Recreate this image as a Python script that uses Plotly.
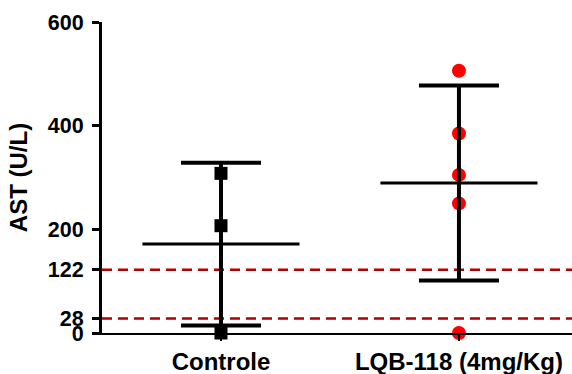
import numpy as np
import plotly.graph_objects as go

categories = ["Controle", "LQB-118 (4mg/Kg)"]
controle_values = [308, 207, 0]
lqb_values = [506, 385, 305, 250, 0]
reference_lines = [28, 122]
y_tickvals = [0, 28, 122, 200, 400, 600]

groups = [controle_values, lqb_values]
means = [float(np.mean(g)) for g in groups]
sds = [float(np.std(g, ddof=1)) for g in groups]
xpos = list(range(len(categories)))

FONT = "Liberation Sans, Arial, sans-serif"
fig = go.Figure()

# individual points
fig.add_trace(go.Scatter(
    x=[0] * len(controle_values), y=controle_values, mode="markers",
    marker=dict(symbol="square", size=13, color="black"),
    cliponaxis=False, showlegend=False))
fig.add_trace(go.Scatter(
    x=[1] * len(lqb_values), y=lqb_values, mode="markers",
    marker=dict(symbol="circle", size=14, color="#ff0000"),
    cliponaxis=False, showlegend=False))

# SD error bars
fig.add_trace(go.Scatter(
    x=xpos, y=means, mode="markers",
    marker=dict(size=1, color="rgba(0,0,0,0)"),
    error_y=dict(type="data", array=sds, visible=True, color="black",
                 thickness=4, width=40),
    cliponaxis=False, showlegend=False))

# mean lines
mx, my = [], []
for x, m in zip(xpos, means):
    mx += [x - 0.33, x + 0.33, None]
    my += [m, m, None]
fig.add_trace(go.Scatter(x=mx, y=my, mode="lines",
                         line=dict(color="black", width=3),
                         showlegend=False))

for r in reference_lines:
    fig.add_shape(type="line", xref="paper", x0=0, x1=1, yref="y", y0=r, y1=r,
                  line=dict(color="#b00000", width=2.5, dash="10px,6px"),
                  layer="below")

fig.update_layout(
    width=572, height=374,
    margin=dict(l=102, r=0, t=22, b=41, autoexpand=False),
    paper_bgcolor="white", plot_bgcolor="white",
    font=dict(family=FONT, color="black", size=20, weight=700),
    xaxis=dict(range=[-0.5, 1.475], tickvals=xpos, ticktext=categories,
               automargin=False,
               showgrid=False, zeroline=False, showline=True,
               linecolor="black", linewidth=2,
               ticks="outside", ticklen=6, tickwidth=2, tickcolor="black",
               tickfont=dict(family=FONT, size=24, weight=700)),
    yaxis=dict(range=[0, 600], tickvals=y_tickvals, automargin=False,
               showgrid=False, zeroline=False, showline=True,
               linecolor="black", linewidth=3,
               ticks="outside", ticklen=7, tickwidth=3, tickcolor="black",
               ticklabelstandoff=4,
               tickfont=dict(family=FONT, size=21.5, weight=700),
               title=dict(text="AST (U/L)", standoff=14,
                          font=dict(family=FONT, size=24, weight=700))),
)

fig.write_html("out.html", config={"displayModeBar": False},
               post_script="document.body.style.margin='0';document.body.style.overflow='hidden';")
